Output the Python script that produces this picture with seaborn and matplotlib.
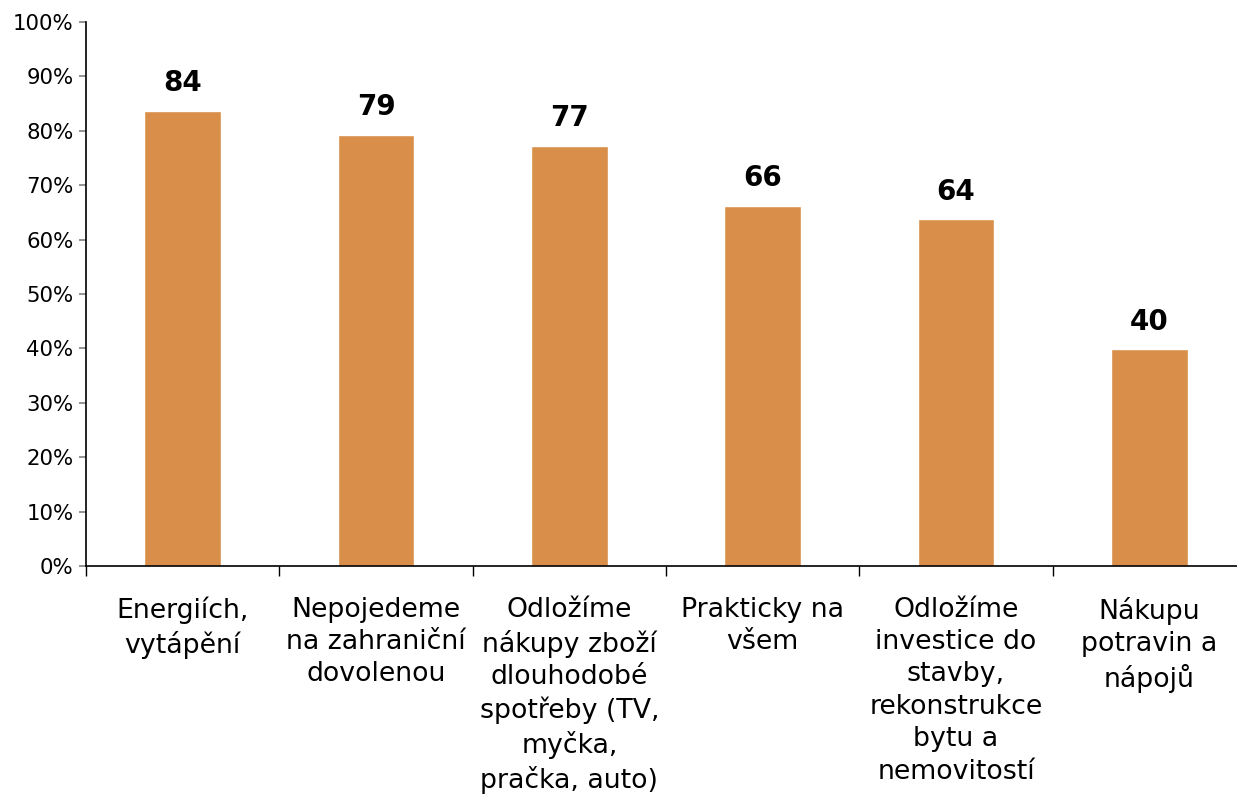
import numpy as np
import matplotlib
matplotlib.use("Agg")
import matplotlib.pyplot as plt
import seaborn as sns
import pandas as pd

# data
categories = [
    "Energiích,\nvytápění",
    "Nepojedeme\nna zahraniční\ndovolenou",
    "Odložíme\nnákupy zboží\ndlouhodobé\nspotřeby (TV,\nmyčka,\npračka, auto)",
    "Prakticky na\nvšem",
    "Odložíme\ninvestice do\nstavby,\nrekonstrukce\nbytu a\nnemovitostí",
    "Nákupu\npotravin a\nnápojů",
]
values = [83.7, 79.2, 77.2, 66.2, 63.7, 39.8]
value_labels = ["84", "79", "77", "66", "64", "40"]
y_ticks = [0, 10, 20, 30, 40, 50, 60, 70, 80, 90, 100]

sns.set_style("white")
plt.rcParams['font.family'] = ['DejaVu Sans']
plt.rcParams['text.color'] = 'black'
plt.rcParams['xtick.color'] = 'black'
plt.rcParams['ytick.color'] = 'black'

df = pd.DataFrame({"cat": categories, "val": values})

fig = plt.figure(figsize=(12.37, 7.94), dpi=100)
ax = fig.add_axes([86 / 1237, 228 / 794, 1160 / 1237, 544 / 794])

sns.barplot(data=df, x="cat", y="val", color="#D98F4A", saturation=1,
            width=0.395, ax=ax)

# value labels above bars
for i, (v, lab) in enumerate(zip(values, value_labels)):
    ax.annotate(lab, (i, v), xytext=(0, 10), textcoords="offset points",
                ha="center", va="bottom", fontsize=20, fontweight="bold",
                color="black")

ax.set_xlim(-0.5, 5.5)
ax.set_ylim(0, 100)
ax.set_yticks(y_ticks)
ax.set_yticklabels([f"{t}%" for t in y_ticks], fontsize=15.3, color="black")

# tick marks between categories, labels centred under bars
ax.set_xticks(np.arange(-0.5, 6, 1))
ax.set_xticklabels([])
ax.set_xticks(range(len(categories)), minor=True)
ax.set_xticklabels(categories, minor=True, fontsize=19.3, linespacing=1.32,
                   va="top", color="black")
ax.tick_params(axis="x", which="major", length=7, width=1, color="black",
               direction="out", bottom=True)
ax.tick_params(axis="x", which="minor", length=0, pad=22)
ax.tick_params(axis="y", length=5, width=1.2, color="#808080",
               direction="out", left=True, pad=4)

ax.set_xlabel("")
ax.set_ylabel("")
for side in ["top", "right"]:
    ax.spines[side].set_visible(False)
for side in ["left", "bottom"]:
    ax.spines[side].set_color("black")
    ax.spines[side].set_linewidth(1.2)
ax.grid(False)

fig.savefig("out.png", dpi=100)
